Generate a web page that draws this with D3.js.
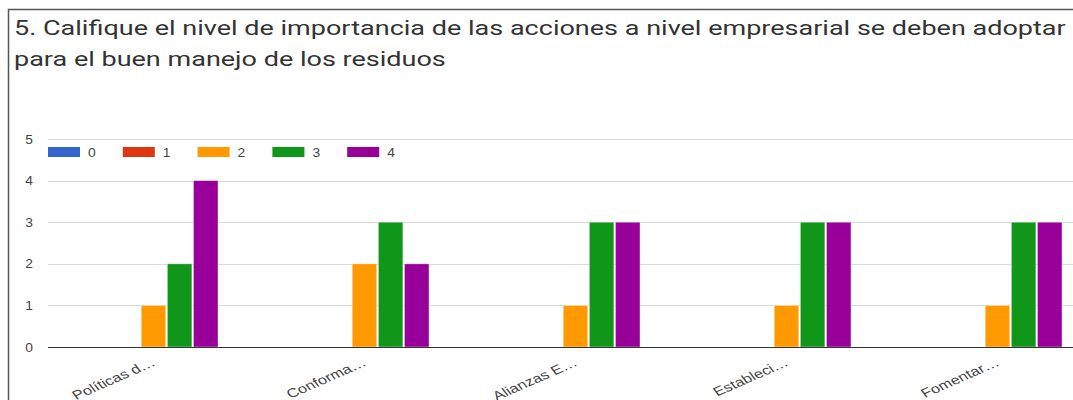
<!DOCTYPE html>
<html lang="es">
<head>
<meta charset="UTF-8">
<title>Calificación de acciones</title>
<script src="https://d3js.org/d3.v7.min.js"></script>
<style>
  body { margin: 0; background: #fff; font-family: Roboto, Arial, sans-serif; }
  svg { display: block; }
</style>
</head>
<body>
<svg id="chart" width="1073" height="400"></svg>
<script>
// datos
const categorias = ['Políticas d…', 'Conforma…', 'Alianzas E…', 'Estableci…', 'Fomentar…'];
const series = ['0', '1', '2', '3', '4'];
const serie0 = [0, 0, 0, 0, 0];
const serie1 = [0, 0, 0, 0, 0];
const serie2 = [1, 2, 1, 1, 1];
const serie3 = [2, 3, 3, 3, 3];
const serie4 = [4, 2, 3, 3, 3];
const colores = ['#3366cc', '#dc3912', '#ff9900', '#109618', '#990099'];
const ticksY = [0, 1, 2, 3, 4, 5];
const titulo = [
  '5. Califique el nivel de importancia de las acciones a nivel empresarial se deben adoptar',
  'para el buen manejo de los residuos'
];

const valores = [serie0, serie1, serie2, serie3, serie4];
const filas = categorias.map((c, i) => ({ cat: c, vals: valores.map(s => s[i]) }));

const svg = d3.select('#chart');
const estirar = 1.32; // la captura original está estirada en horizontal

// marco
svg.append('rect')
  .attr('x', 8.5).attr('y', 9.5)
  .attr('width', 1100).attr('height', 420)
  .attr('fill', 'none').attr('stroke', '#555').attr('stroke-width', 1.5);

// título
const tit = svg.append('g').selectAll('text')
  .data(titulo).enter().append('text')
  .style('font-size', '20px')
  .style('fill', '#333')
  .text(d => d);
const ancho = tit.nodes()[0].getComputedTextLength();
const sx = (1066 - 14) / ancho;
tit.attr('transform', (d, i) => `translate(14,${35 + i * 30.5}) scale(${sx},1)`);

const y = d3.scaleLinear().domain([0, 5]).range([347, 139]);
const x0 = d3.scaleBand().domain(categorias).range([48, 1103]);
const x1 = d3.scaleBand().domain(series).range([41, 170]).paddingInner(0.06);

// rejilla
svg.append('g').selectAll('line')
  .data(ticksY.filter(t => t > 0)).enter().append('line')
  .attr('x1', 48).attr('x2', 1073)
  .attr('y1', d => Math.round(y(d)) + 0.5).attr('y2', d => Math.round(y(d)) + 0.5)
  .attr('stroke', '#d9d9d9');

// etiquetas eje y
svg.append('g').selectAll('text')
  .data(ticksY).enter().append('text')
  .attr('transform', d => `translate(33,${y(d) + 4.5}) scale(1.15,1)`)
  .attr('text-anchor', 'end')
  .style('font-family', 'Arial, "Liberation Sans", sans-serif')
  .style('font-size', '12px')
  .style('fill', '#444')
  .text(d => d);

// barras
const grupos = svg.append('g').selectAll('g')
  .data(filas).enter().append('g')
  .attr('transform', d => `translate(${x0(d.cat)},0)`);

grupos.selectAll('rect')
  .data(d => d.vals.map((v, i) => ({ s: series[i], v: v, i: i })))
  .enter().append('rect')
  .attr('x', d => x1(d.s))
  .attr('y', d => y(d.v))
  .attr('width', x1.bandwidth())
  .attr('height', d => y(0) - y(d.v))
  .attr('fill', d => colores[d.i])
  .attr('stroke', '#fff')
  .attr('stroke-opacity', 0.5)
  .attr('stroke-width', 0.8);

// línea base
svg.append('line')
  .attr('x1', 48).attr('x2', 1073)
  .attr('y1', 347.5).attr('y2', 347.5)
  .attr('stroke', '#333').attr('stroke-width', 1.2);

// etiquetas eje x
svg.append('g').selectAll('text')
  .data(categorias).enter().append('text')
  .attr('transform', d => `translate(${x0(d) + x0.bandwidth() / 2 + 3},365) scale(${estirar},1) rotate(-30)`)
  .attr('text-anchor', 'end')
  .style('font-family', 'Arial, "Liberation Sans", sans-serif')
  .style('font-size', '12.5px')
  .style('fill', '#444')
  .text(d => d);

// leyenda
const leyenda = svg.append('g').selectAll('g')
  .data(series).enter().append('g')
  .attr('transform', (d, i) => `translate(${48 + i * 74.8},147)`);

leyenda.append('rect')
  .attr('width', 32).attr('height', 10)
  .attr('fill', (d, i) => colores[i]);

leyenda.append('text')
  .attr('transform', 'translate(40,9.5) scale(1.15,1)')
  .style('font-family', 'Arial, "Liberation Sans", sans-serif')
  .style('font-size', '12px')
  .style('fill', '#444')
  .text(d => d);
</script>
</body>
</html>
